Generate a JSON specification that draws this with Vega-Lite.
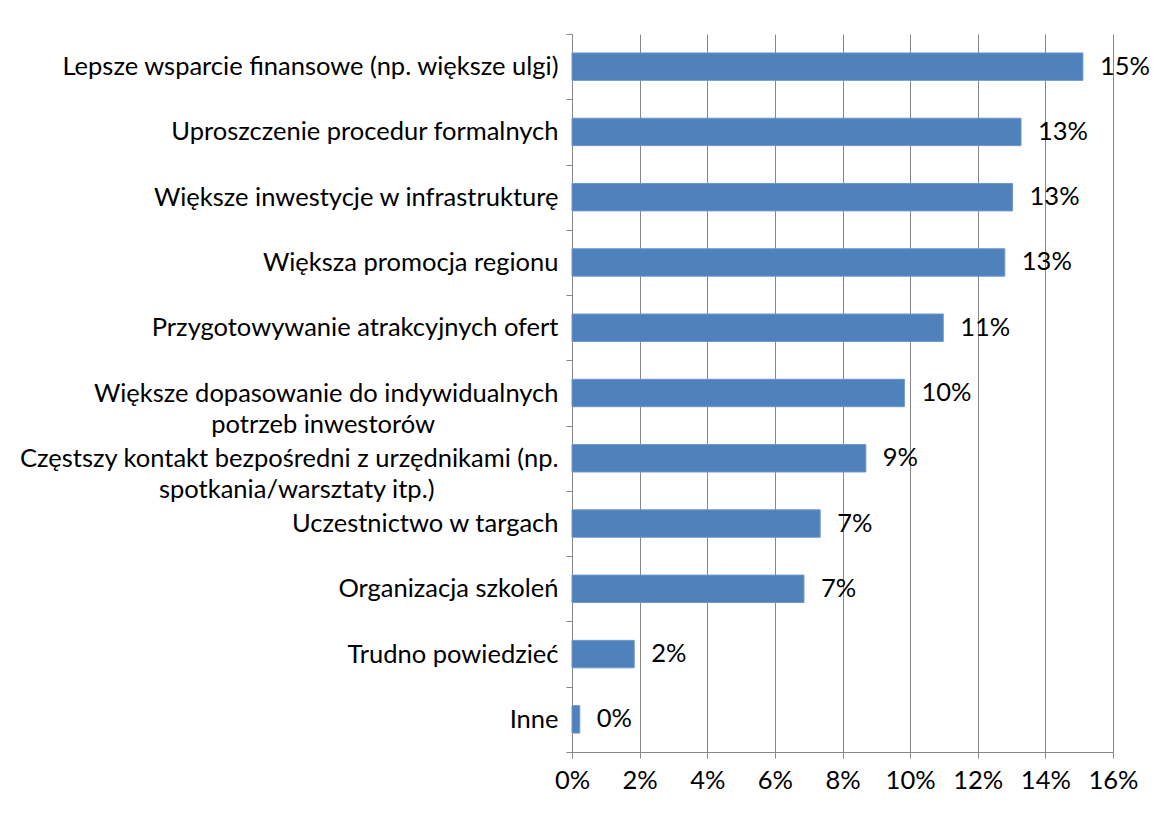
{
  "$schema": "https://vega.github.io/schema/vega-lite/v6.json",
  "autosize": {"type": "none"},
  "padding": {"left": 572, "top": 34, "right": 46, "bottom": 62},
  "width": 541,
  "height": 718,
  "background": "white",
  "config": {
    "view": {"stroke": null},
    "font": "Lato",
    "axis": {"labelFont": "Lato", "labelFontSize": 25.5, "labelColor": "black", "domainColor": "#878787", "tickColor": "#878787", "gridColor": "#878787", "title": null}
  },
  "data": {
    "values": [
      {"kategoria": "Lepsze wsparcie finansowe (np. większe ulgi)", "wartosc": 0.1511},
      {"kategoria": "Uproszczenie procedur formalnych", "wartosc": 0.1328},
      {"kategoria": "Większe inwestycje w infrastrukturę", "wartosc": 0.1303},
      {"kategoria": "Większa promocja regionu", "wartosc": 0.1280},
      {"kategoria": "Przygotowywanie atrakcyjnych ofert", "wartosc": 0.1098},
      {"kategoria": "Większe dopasowanie do indywidualnych|potrzeb inwestorów", "wartosc": 0.0983},
      {"kategoria": "Częstszy kontakt bezpośredni z urzędnikami (np.|spotkania/warsztaty itp.)", "wartosc": 0.0869},
      {"kategoria": "Uczestnictwo w targach", "wartosc": 0.0734},
      {"kategoria": "Organizacja szkoleń", "wartosc": 0.0686},
      {"kategoria": "Trudno powiedzieć", "wartosc": 0.0184},
      {"kategoria": "Inne", "wartosc": 0.0023}
    ]
  },
  "encoding": {
    "y": {
      "field": "kategoria",
      "type": "nominal",
      "sort": null,
      "scale": {"paddingInner": 0, "paddingOuter": 0},
      "axis": {
        "tickBand": "extent",
        "tickSize": 6,
        "labelPadding": 8,
        "labelLineHeight": 31,
        "labelLimit": 0,
        "labelExpr": "indexof(datum.label, '|') < 0 ? datum.label : [split(datum.label, '|')[0], split(datum.label, '|')[1] + '\u00a0\u00a0\u00a0\u00a0\u00a0\u00a0\u00a0\u00a0\u00a0\u00a0\u00a0\u00a0\u00a0\u00a0\u00a0\u00a0\u00a0\u00a0\u00a0\u2060']"
      }
    },
    "x": {
      "field": "wartosc",
      "type": "quantitative",
      "scale": {"domain": [0, 0.16], "nice": false},
      "axis": {"format": ".0%", "values": [0, 0.02, 0.04, 0.06, 0.08, 0.1, 0.12, 0.14, 0.16], "grid": true, "tickSize": 6, "labelPadding": 10, "labelOverlap": false, "labelFlush": false}
    }
  },
  "layer": [
    {"mark": {"type": "bar", "color": "#4F81BD", "height": {"band": 0.42}, "stroke": "#6E96CB", "strokeWidth": 1}},
    {"mark": {"type": "text", "align": "left", "baseline": "middle", "dx": 17, "fontSize": 25.5, "font": "Lato", "color": "black"},
     "encoding": {"text": {"field": "wartosc", "type": "quantitative", "format": ".0%"}}}
  ]
}
